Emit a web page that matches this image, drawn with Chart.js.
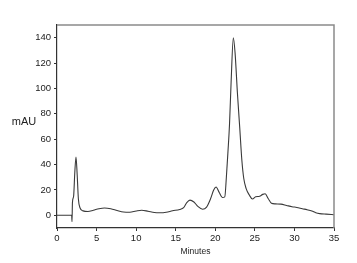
<!DOCTYPE html>
<html>
<head>
<meta charset="utf-8">
<script src="https://cdn.jsdelivr.net/npm/chart.js@4/dist/chart.umd.min.js"></script>
<style>
  html, body { margin: 0; padding: 0; background: #fff; }
  #wrap { width: 357px; height: 263px; }
</style>
</head>
<body>
<div id="wrap"><canvas id="myChart" width="357" height="263"></canvas></div>
<script>
// chromatogram
var minutes = [0, 1.85, 1.9, 1.95, 2.1, 2.25, 2.4, 2.55, 2.7, 2.9, 3.3, 3.9, 4.6, 5.3, 6.0, 6.8, 7.6, 8.4, 9.2,
  10.0, 10.7, 11.5, 12.3, 13.0, 13.8, 14.6, 15.5, 16.0, 16.4, 16.8, 17.3, 17.8, 18.4, 18.9, 19.4, 19.8, 20.1,
  20.5, 20.9, 21.2, 21.4, 21.6, 21.8, 22.0, 22.28, 22.5, 22.8, 23.1, 23.35, 23.6, 23.9, 24.3, 24.7, 25.1,
  25.6, 26.0, 26.3, 26.7, 27.1, 27.6, 28.3, 29.0, 29.7, 30.3, 31.0, 31.6, 32.2, 32.7, 33.2, 34.0, 35.0];
var mAU = [0, 0, -5, 10, 15, 34, 46, 32, 13, 6, 3.5, 3, 4, 5.2, 5.8, 5.2, 3.8, 2.6, 2.4,
  3.4, 4, 3.2, 2.2, 2, 2.4, 3.6, 4.6, 6, 10, 12, 10.5, 7, 4.8, 6.5, 13, 20, 22.3,
  18, 14, 14.5, 30, 50, 72, 105, 140, 128, 96, 68, 44, 29, 21, 16, 12.8, 14.6,
  15, 16.5, 17, 13, 9.5, 9, 8.8, 7.8, 6.8, 6.2, 5.2, 4.4, 3.4, 2, 1.3, 0.9, 0.5];
var yTicks = [0, 20, 40, 60, 80, 100, 120, 140];
var xTicks = [0, 5, 10, 15, 20, 25, 30, 35];

var points = minutes.map(function (m, i) { return { x: m, y: mAU[i] }; });

// top/right frame and the two axis titles
var extras = {
  id: 'extras',
  afterDraw: function (chart) {
    var ctx = chart.ctx;
    var a = chart.chartArea;
    ctx.save();
    ctx.strokeStyle = '#8a8a8a';
    ctx.lineWidth = 1.5;
    ctx.beginPath();
    ctx.moveTo(a.left, a.top);
    ctx.lineTo(a.right, a.top);
    ctx.lineTo(a.right, a.bottom);
    ctx.stroke();
    ctx.fillStyle = '#222';
    ctx.font = '11px "Liberation Sans", Arial, sans-serif';
    ctx.textAlign = 'center';
    ctx.textBaseline = 'middle';
    ctx.fillText('mAU', 24, 122);
    ctx.font = '8.5px "Liberation Sans", Arial, sans-serif';
    ctx.fillText('Minutes', (a.left + a.right) / 2, 252);
    ctx.restore();
  }
};

var tickFont = { family: '"Liberation Sans", Arial, sans-serif', size: 9.5 };

var ctx = document.getElementById('myChart').getContext('2d');
var myChart = new Chart(ctx, {
  type: 'line',
  data: {
    datasets: [{
      data: points,
      borderColor: '#3a3a3a',
      borderWidth: 1.1,
      pointRadius: 0,
      fill: false,
      cubicInterpolationMode: 'monotone'
    }]
  },
  options: {
    responsive: false,
    animation: false,
    layout: { padding: { top: 25, right: 23, left: 0, bottom: 0 } },
    plugins: { legend: { display: false }, tooltip: { enabled: false } },
    scales: {
      x: {
        type: 'linear',
        min: 0, max: 35,
        afterBuildTicks: function (s) { s.ticks = xTicks.map(function (v) { return { value: v }; }); },
        afterFit: function (s) { s.height = 35; },
        grid: { drawOnChartArea: false, drawTicks: true, tickLength: 3, color: '#333' },
        border: { display: true, color: '#333', width: 1.2 },
        ticks: { color: '#222', font: tickFont, padding: 2, maxRotation: 0 }
      },
      y: {
        type: 'linear',
        min: -10, max: 150,
        afterBuildTicks: function (s) { s.ticks = yTicks.map(function (v) { return { value: v }; }); },
        afterFit: function (s) { s.width = 57; },
        grid: { drawOnChartArea: false, drawTicks: true, tickLength: 3, color: '#333' },
        border: { display: true, color: '#333', width: 1.2 },
        ticks: { color: '#222', font: tickFont, padding: 3 }
      }
    }
  },
  plugins: [extras]
});
</script>
</body>
</html>
